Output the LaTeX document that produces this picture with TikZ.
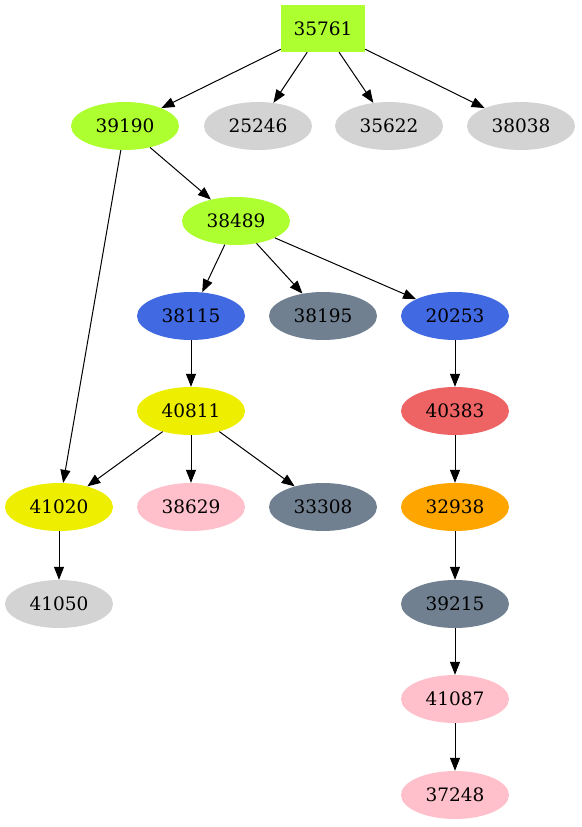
\documentclass[tikz,border=0pt]{standalone}
\usepackage{fontspec}
\setmainfont{DejaVu Serif}
\usetikzlibrary{arrows.meta,shapes.geometric}
\definecolor{gy}{HTML}{ADFF2F}
\definecolor{lg}{HTML}{D3D3D3}
\definecolor{rb}{HTML}{4169E1}
\definecolor{sg}{HTML}{708090}
\definecolor{yw}{HTML}{EEEE00}
\definecolor{ir}{HTML}{EE6363}
\definecolor{pk}{HTML}{FFC0CB}
\definecolor{og}{HTML}{FFA500}
\tikzset{
  nd/.style={ellipse,minimum width=108pt,minimum height=48pt,inner sep=0pt,font=\fontsize{18.5}{22}\selectfont},
  bx/.style={rectangle,minimum width=84pt,minimum height=47pt,inner sep=0pt,font=\fontsize{18.5}{22}\selectfont},
  ed/.style={-{Triangle[length=13pt,width=10pt]},line width=1pt,black}
}
\begin{document}
\begin{tikzpicture}[x=1pt,y=-1pt]
\useasboundingbox (0,0) rectangle (581,827);
\node[bx,fill=gy] (n35761) at (323,28.5) {35761};
\node[nd,fill=gy] (n39190) at (125,126) {39190};
\node[nd,fill=lg] (n25246) at (258,126) {25246};
\node[nd,fill=lg] (n35622) at (389,126) {35622};
\node[nd,fill=lg] (n38038) at (521,126) {38038};
\node[nd,fill=gy] (n38489) at (236,221) {38489};
\node[nd,fill=rb] (n38115) at (191,316) {38115};
\node[nd,fill=sg] (n38195) at (323,316) {38195};
\node[nd,fill=rb] (n20253) at (455,316) {20253};
\node[nd,fill=yw] (n40811) at (191,411) {40811};
\node[nd,fill=ir] (n40383) at (455,411) {40383};
\node[nd,fill=yw] (n41020) at (59,507) {41020};
\node[nd,fill=pk] (n38629) at (191,507) {38629};
\node[nd,fill=sg] (n33308) at (323,507) {33308};
\node[nd,fill=og] (n32938) at (455,507) {32938};
\node[nd,fill=lg] (n41050) at (59,604) {41050};
\node[nd,fill=sg] (n39215) at (455,604) {39215};
\node[nd,fill=pk] (n41087) at (455,699) {41087};
\node[nd,fill=pk] (n37248) at (455,795) {37248};
\draw[ed] (n35761) -- (n39190);
\draw[ed] (n35761) -- (n25246);
\draw[ed] (n35761) -- (n35622);
\draw[ed] (n35761) -- (n38038);
\draw[ed] (n39190) -- (n38489);
\draw[ed] (n39190) -- (n41020);
\draw[ed] (n38489) -- (n38115);
\draw[ed] (n38489) -- (n38195);
\draw[ed] (n38489) -- (n20253);
\draw[ed] (n38115) -- (n40811);
\draw[ed] (n40811) -- (n41020);
\draw[ed] (n40811) -- (n38629);
\draw[ed] (n40811) -- (n33308);
\draw[ed] (n20253) -- (n40383);
\draw[ed] (n40383) -- (n32938);
\draw[ed] (n32938) -- (n39215);
\draw[ed] (n39215) -- (n41087);
\draw[ed] (n41087) -- (n37248);
\draw[ed] (n41020) -- (n41050);
\end{tikzpicture}
\end{document}
